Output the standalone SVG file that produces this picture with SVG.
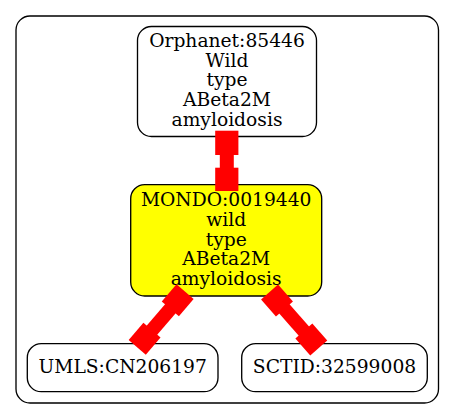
<svg xmlns="http://www.w3.org/2000/svg" width="455" height="419" viewBox="0 0 455 419">
<style>
.n{fill:#fff;stroke:#000;stroke-width:1.33}
.y{fill:#ffff00}
.t{font-family:"DejaVu Serif",serif;font-size:18.7px;text-anchor:middle;fill:#000}
.e{stroke:#ff0000;stroke-width:14;fill:none}
.b{fill:#ff0000}
</style>
<rect width="455" height="419" fill="#fff"/>
<g id="cluster">
<rect x="16" y="16" width="422.5" height="387" rx="14" ry="14" fill="none" stroke="#000" stroke-width="1.33"/>
</g>
<g id="orphanet">
<rect class="n" x="137.5" y="26.5" width="179" height="110" rx="14" ry="14"/>
<text class="t" x="227" y="46.7">Orphanet:85446</text>
<text class="t" x="227" y="66.5">Wild</text>
<text class="t" x="227" y="86.3">type</text>
<text class="t" x="227" y="106.1">ABeta2M</text>
<text class="t" x="227" y="125.9">amyloidosis</text>
</g>
<g id="mondo">
<rect class="n y" x="130.7" y="184.7" width="191" height="111.3" rx="14" ry="14"/>
<text class="t" x="226.2" y="206">MONDO:0019440</text>
<text class="t" x="226.2" y="225.8">wild</text>
<text class="t" x="226.2" y="245.6">type</text>
<text class="t" x="226.2" y="265.4">ABeta2M</text>
<text class="t" x="226.2" y="285.2">amyloidosis</text>
</g>
<g id="umls">
<rect class="n" x="27.3" y="343.7" width="190.7" height="48" rx="14" ry="14"/>
<text class="t" x="122.7" y="373.3">UMLS:CN206197</text>
</g>
<g id="sctid">
<rect class="n" x="241.7" y="343.7" width="185.6" height="48" rx="14" ry="14"/>
<text class="t" x="334.5" y="373.3">SCTID:32599008</text>
</g>
<g id="connectors">
<line class="e" x1="226.8" y1="143" x2="226.8" y2="179"/>
<rect class="b" x="215.2" y="130.7" width="23.2" height="24.3"/>
<rect class="b" x="215.2" y="167.7" width="23.2" height="23.3"/>
<line class="e" x1="177.7" y1="300.3" x2="144.6" y2="338.8"/>
<rect class="b" x="-11.3" y="-11.3" width="22.6" height="22.6" transform="translate(177.7 300.3) rotate(40.7)"/>
<rect class="b" x="-11.3" y="-11.3" width="22.6" height="22.6" transform="translate(144.6 338.8) rotate(40.7)"/>
<line class="e" x1="277" y1="300.5" x2="311.3" y2="339.5"/>
<rect class="b" x="-11.3" y="-11.3" width="22.6" height="22.6" transform="translate(277 300.5) rotate(48.7)"/>
<rect class="b" x="-11.3" y="-11.3" width="22.6" height="22.6" transform="translate(311.3 339.5) rotate(48.7)"/>
</g>
</svg>
